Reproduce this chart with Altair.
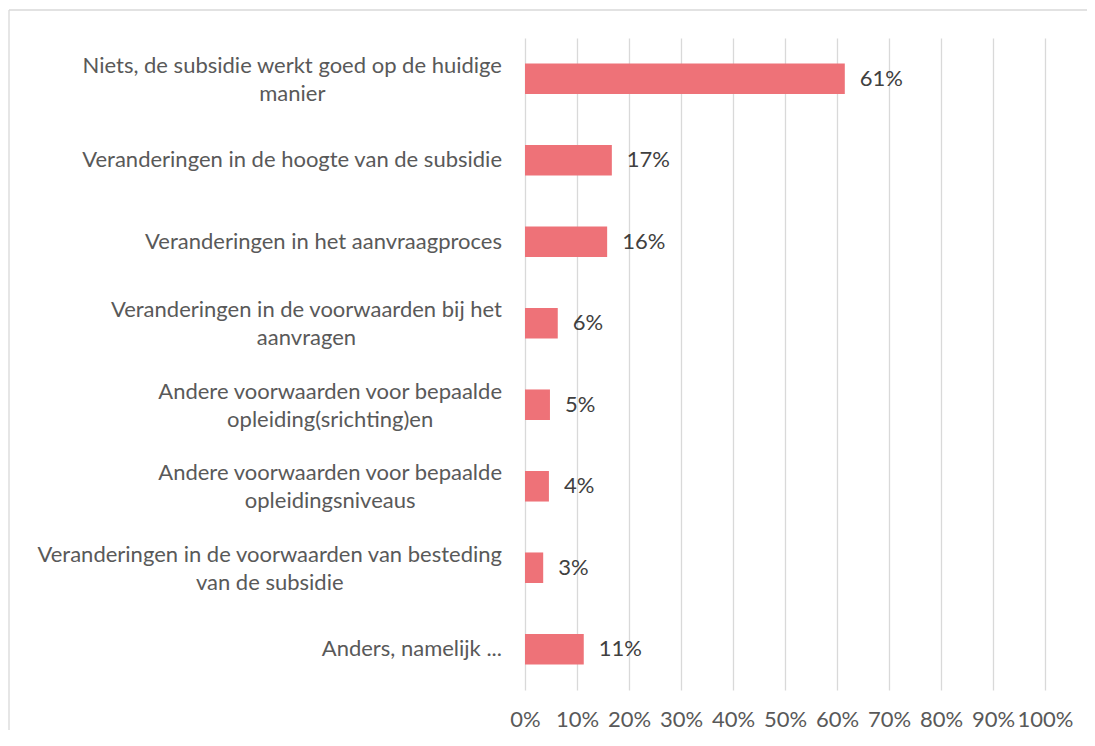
import glob
import altair as alt
import pandas as pd

# ---- data ----
line1 = [
    "Niets, de subsidie werkt goed op de huidige",
    "Veranderingen in de hoogte van de subsidie",
    "Veranderingen in het aanvraagproces",
    "Veranderingen in de voorwaarden bij het",
    "Andere voorwaarden voor bepaalde",
    "Andere voorwaarden voor bepaalde",
    "Veranderingen in de voorwaarden van besteding",
    "Anders, namelijk ...",
]
line2 = [
    "manier",
    "",
    "",
    "aanvragen",
    "opleiding(srichting)en",
    "opleidingsniveaus",
    "van de subsidie",
    "",
]
values = [0.615, 0.167, 0.158, 0.063, 0.048, 0.046, 0.035, 0.113]
value_labels = ["61%", "17%", "16%", "6%", "5%", "4%", "3%", "11%"]
x_ticks = [0, 0.1, 0.2, 0.3, 0.4, 0.5, 0.6, 0.7, 0.8, 0.9, 1.0]

FONT = "Lato"
FS = 22
BAR = "#EE7278"
TXT = "#595959"
GRID = "#D9D9D9"

cats = [(a + " " + b).strip() for a, b in zip(line1, line2)]
df = pd.DataFrame({"cat": cats, "line1": line1, "line2": line2,
                   "value": values, "vlabel": value_labels})

# width of a text line, used to centre the wrapped second line under the first
W = {"i": .23, "l": .23, "j": .23, "f": .32, "t": .34, "r": .36, " ": .19,
     ",": .2, ".": .2, "(": .3, ")": .3, "s": .41, "c": .45, "z": .44,
     "m": .83, "w": .76, "k": .49, "v": .49, "y": .49, "x": .48, "e": .5,
     "a": .49, "g": .49}

def fallback_w(s):
    tot = 0
    for ch in s:
        if ch in W:
            tot += W[ch]
        elif ch.isupper():
            tot += .66
        else:
            tot += .55
    return tot * FS * 1.045

def make_measure():
    try:
        from PIL import ImageFont
        paths = glob.glob("/usr/share/fonts/**/Lato-Regular.ttf", recursive=True)
        paths += glob.glob("/usr/local/share/fonts/**/Lato-Regular.ttf", recursive=True)
        if paths:
            f = ImageFont.truetype(paths[0], size=200)
            return lambda s: f.getlength(s) * FS / 200
    except Exception:
        pass
    return fallback_w

text_w = make_measure()

LABEL_RIGHT = -23

yenc = alt.Y("cat:N", sort=cats, axis=None,
             scale=alt.Scale(paddingInner=0.625, paddingOuter=0.3125))

base = alt.Chart(df)

bars = base.mark_bar(color=BAR).encode(
    x=alt.X("value:Q", scale=alt.Scale(domain=[0, 1], nice=False),
            axis=alt.Axis(values=x_ticks, format=".0%", title=None,
                          domain=False, ticks=False, grid=True,
                          gridColor=GRID, gridWidth=1.3,
                          labelFont=FONT, labelFontSize=FS, labelColor=TXT,
                          labelPadding=19, labelOverlap=False,
                          labelFlush=False, labelBound=False)),
    y=yenc,
)

vals = base.mark_text(align="left", baseline="middle", dx=15, font=FONT,
                      fontSize=FS, color="#404040").encode(
    x="value:Q", y=yenc, text="vlabel:N")

single = base.transform_filter("datum.line2 == ''").mark_text(
    align="right", baseline="middle", font=FONT, fontSize=FS, color=TXT
).encode(x=alt.value(LABEL_RIGHT), y=yenc, text="line1:N")

double1 = base.transform_filter("datum.line2 != ''").mark_text(
    align="right", baseline="middle", font=FONT, fontSize=FS, color=TXT, dy=-13
).encode(x=alt.value(LABEL_RIGHT), y=yenc, text="line1:N")

layers = [bars, vals, single, double1]
for a, b in zip(line1, line2):
    if not b:
        continue
    cx = LABEL_RIGHT - text_w(a) / 2
    sub = df[df["line1"] + df["line2"] == a + b]
    layers.append(
        alt.Chart(sub).mark_text(align="center", baseline="middle", font=FONT,
                                 fontSize=FS, color=TXT, dy=15).encode(
            x=alt.value(cx), y=yenc, text="line2:N"))

frame_df = pd.DataFrame({"k": [0]})
frame_v = alt.Chart(frame_df).mark_rule(color=GRID, strokeWidth=1.3).encode(
    x=alt.value(-516), y=alt.value(-28), y2=alt.value(710))
frame_h = alt.Chart(frame_df).mark_rule(color=GRID, strokeWidth=1.3).encode(
    x=alt.value(-516), x2=alt.value(570), y=alt.value(-28))
layers += [frame_v, frame_h]

chart = alt.layer(*layers).properties(
    width=520, height=652,
    autosize=alt.AutoSizeParams(type="none"),
    padding={"left": 517, "top": 30, "right": 42, "bottom": 40},
).configure_view(stroke=None)

chart.save("out.html", embed_options={"renderer": "svg", "actions": False})
